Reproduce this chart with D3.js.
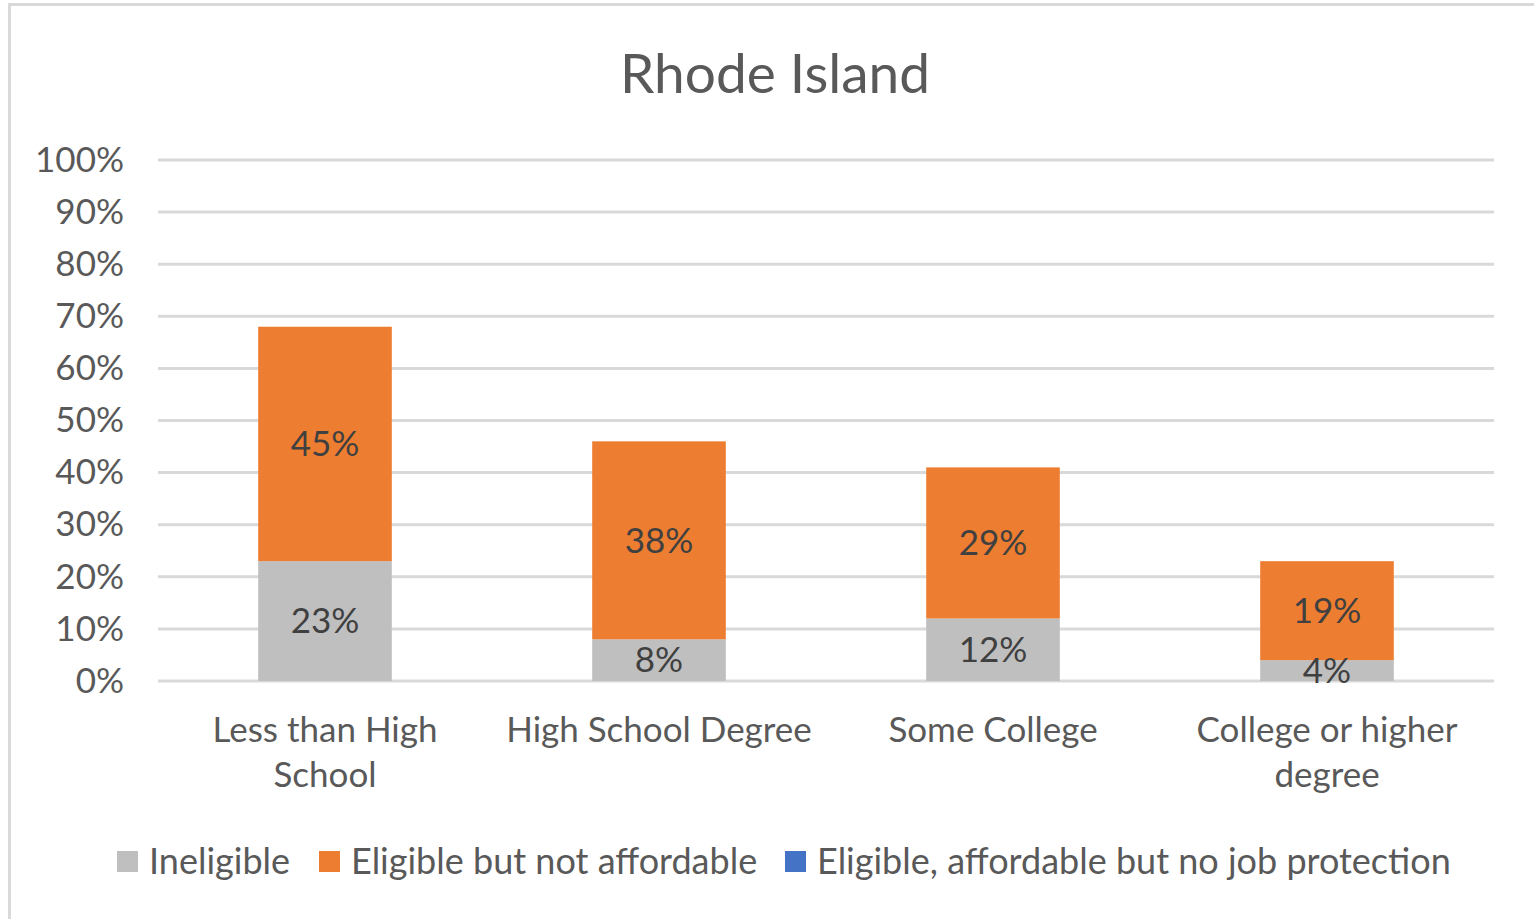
<!DOCTYPE html>
<html><head><meta charset="utf-8">
<script src="https://cdn.jsdelivr.net/npm/d3@7"></script>
<style>html,body{margin:0;padding:0;background:#fff;overflow:hidden}</style>
</head><body>
<svg id="c" width="1534" height="919"></svg>
<script>
const title = "Rhode Island";
const categories = ["Less than High School", "High School Degree", "Some College", "College or higher degree"];
const categoryLines = [["Less than High", "School"], ["High School Degree"], ["Some College"], ["College or higher", "degree"]];
const seriesNames = ["Ineligible", "Eligible but not affordable", "Eligible, affordable but no job protection"];
const ineligible = [0.23, 0.08, 0.12, 0.04];
const notAffordable = [0.45, 0.38, 0.29, 0.19];
const noProtection = [0, 0, 0, 0];
const yTicks = [0, 0.1, 0.2, 0.3, 0.4, 0.5, 0.6, 0.7, 0.8, 0.9, 1.0];
const colors = ["#BFBFBF", "#ED7D31", "#4472C4"];

const FONT = "Lato, 'Open Sans', sans-serif";
const TXT = "#595959";
const FS = 35;
const svg = d3.select("#c");

// outer chart border
svg.append("rect").attr("x", 9.5).attr("y", 4.5).attr("width", 1560).attr("height", 960)
  .attr("fill", "none").attr("stroke", "#D9D9D9").attr("stroke-width", 3);

const m = {left: 158, right: 1494, top: 160, bottom: 681};
const x = d3.scaleBand().domain(categories).range([m.left, m.right]).paddingInner(0.6).paddingOuter(0.3);
const y = d3.scaleLinear().domain([0, 1]).range([m.bottom, m.top]);

// gridlines
svg.append("g").selectAll("line").data(yTicks).join("line")
  .attr("x1", m.left).attr("x2", m.right)
  .attr("y1", d => y(d)).attr("y2", d => y(d))
  .attr("stroke", "#D9D9D9").attr("stroke-width", 3);

// y axis
const yAxis = d3.axisLeft(y).tickValues(yTicks).tickFormat(d3.format(".0%")).tickSize(0).tickPadding(34);
const gy = svg.append("g").attr("transform", `translate(${m.left},0)`).call(yAxis);
gy.select(".domain").remove();
gy.selectAll("text").attr("font-family", FONT).attr("font-size", FS).attr("fill", TXT);

// stacked data
const rows = categories.map((c, i) => ({cat: c, s0: ineligible[i], s1: notAffordable[i], s2: noProtection[i]}));
const stack = d3.stack().keys(["s0", "s1", "s2"])(rows);

stack.forEach((layer, li) => {
  const g = svg.append("g");
  g.selectAll("rect").data(layer).join("rect")
    .attr("x", d => x(d.data.cat)).attr("width", x.bandwidth())
    .attr("y", d => y(d[1])).attr("height", d => y(d[0]) - y(d[1]))
    .attr("fill", colors[li]);
});
stack.forEach((layer, li) => {
  const g = svg.append("g");
  g.selectAll("text").data(layer.filter(d => d[1] - d[0] > 0)).join("text")
    .attr("x", d => x(d.data.cat) + x.bandwidth() / 2)
    .attr("y", d => (y(d[0]) + y(d[1])) / 2)
    .attr("dy", "0.35em").attr("text-anchor", "middle")
    .attr("font-family", FONT).attr("font-size", FS).attr("fill", "#404040")
    .text(d => d3.format(".0%")(d[1] - d[0]));
});

// x axis labels
const xAxis = d3.axisBottom(x).tickSize(0).tickFormat("");
const gx = svg.append("g").attr("transform", `translate(0,${m.bottom})`).call(xAxis);
gx.select(".domain").remove();
gx.selectAll(".tick").each(function(d, i) {
  const t = d3.select(this).append("text")
    .attr("text-anchor", "middle").attr("font-family", FONT).attr("font-size", FS).attr("fill", TXT);
  categoryLines[i].forEach((ln, k) => {
    t.append("tspan").attr("x", 0).attr("y", 61 + k * 45).text(ln);
  });
});

// title
svg.append("text").attr("x", 775).attr("y", 93).attr("text-anchor", "middle")
  .attr("font-family", FONT).attr("font-size", 55).attr("fill", TXT).text(title);

// legend
const legend = svg.append("g");
const legendX = [117, 319, 785];
seriesNames.forEach((n, i) => {
  legend.append("rect").attr("x", legendX[i]).attr("y", 851).attr("width", 21).attr("height", 21).attr("fill", colors[i]);
  legend.append("text").attr("x", legendX[i] + 32).attr("y", 874)
    .attr("font-family", FONT).attr("font-size", 36).attr("fill", TXT).text(n);
});
</script>
</body></html>
